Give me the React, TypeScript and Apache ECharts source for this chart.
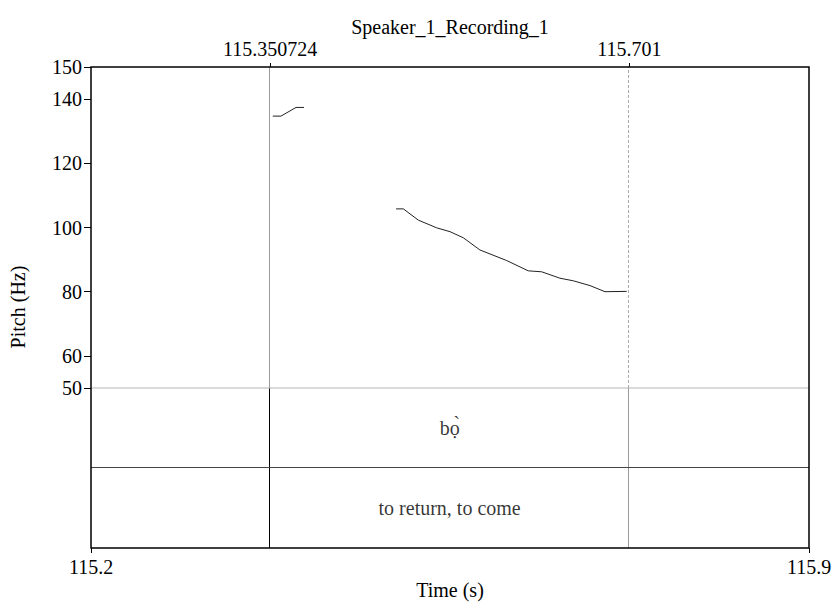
import React, { useEffect, useRef } from "react";
import * as echarts from "echarts";

const titleText = "Speaker_1_Recording_1";
const xMin = 115.1762;
const xMax = 115.8762;
const boundaries = [115.350724, 115.701];
const boundaryLabels = ["115.350724", "115.701"];
const yTicks = [50, 60, 80, 100, 120, 140, 150];
const seg1Times = [115.3534, 115.3614, 115.3761, 115.3839];
const seg1Pitch = [134.7, 134.7, 137.4, 137.4];
const seg2Times = [
  115.4736, 115.4807, 115.4953, 115.5132, 115.5262, 115.5392, 115.5554, 115.5815,
  115.6025, 115.6156, 115.6334, 115.6464, 115.6627, 115.6773, 115.6985,
];
const seg2Pitch = [
  105.8, 105.8, 102.3, 99.9, 98.7, 96.8, 93.0, 89.7, 86.5, 86.2, 84.2, 83.4, 81.9, 80.0, 80.1,
];
const tier1Text = "bọ̀";
const tier2Text = "to return, to come";

const FONT = "Liberation Serif";

export default function App() {
  const ref = useRef<HTMLDivElement>(null);
  useEffect(() => {
    if (!ref.current) return;
    const chart = echarts.init(ref.current, null, { renderer: "svg" });
    const L = 91, T = 67, W = 718;
    const Y50 = 388, TIERSEP = 468, B = 548;
    const mid = (boundaries[0] + boundaries[1]) / 2;
    const hiddenX = (gi: number) => ({
      type: "value", gridIndex: gi, min: xMin, max: xMax,
      axisLine: { show: false }, axisTick: { show: false }, axisLabel: { show: false }, splitLine: { show: false },
    });
    const hiddenY = (gi: number) => ({
      type: "value", gridIndex: gi, min: 0, max: 1,
      axisLine: { show: false }, axisTick: { show: false }, axisLabel: { show: false }, splitLine: { show: false },
    });
    const tierMark = (colors: string[]) => ({
      silent: true, symbol: "none", label: { show: false },
      data: boundaries.map((b, i) => ({ xAxis: b, lineStyle: { color: colors[i], type: "solid", width: 1 } })),
    });
    chart.setOption({
      animation: false,
      textStyle: { fontFamily: FONT },
      grid: [
        { left: L, top: T, width: W, height: Y50 - T, outerBoundsMode: "none", containLabel: false },
        { left: L, top: Y50, width: W, height: TIERSEP - Y50, outerBoundsMode: "none", containLabel: false },
        { left: L, top: TIERSEP, width: W, height: B - TIERSEP, outerBoundsMode: "none", containLabel: false },
      ],
      xAxis: [
        {
          type: "value", gridIndex: 0, position: "top", min: xMin, max: xMax,
          axisLine: { show: false },
          axisTick: { show: true, length: 4, customValues: boundaries, lineStyle: { color: "#000" } },
          axisLabel: {
            show: true, customValues: boundaries, margin: 8, color: "#000", fontSize: 20, fontFamily: FONT,
            formatter: (v: number) => {
              let best = 0;
              boundaries.forEach((b, i) => { if (Math.abs(b - v) < Math.abs(boundaries[best] - v)) best = i; });
              return boundaryLabels[best];
            },
          },
          splitLine: { show: false },
        },
        hiddenX(1),
        {
          type: "value", gridIndex: 2, position: "bottom", min: xMin, max: xMax,
          name: "Time (s)", nameLocation: "middle", nameGap: 32,
          nameTextStyle: { color: "#000", fontSize: 20, fontFamily: FONT },
          axisLine: { show: false },
          axisTick: { show: true, length: 5, customValues: [xMin, xMax], lineStyle: { color: "#000" } },
          axisLabel: {
            show: true, customValues: [xMin, xMax], showMinLabel: true, showMaxLabel: true,
            margin: 9, color: "#000", fontSize: 20, fontFamily: FONT,
            formatter: (v: number) => v.toFixed(1),
          },
          splitLine: { show: false },
        },
      ],
      yAxis: [
        {
          type: "value", gridIndex: 0, min: 50, max: 150,
          axisLine: { show: false },
          axisTick: { show: true, length: 7, customValues: yTicks, lineStyle: { color: "#000" } },
          axisLabel: {
            show: true, customValues: yTicks, showMinLabel: true, showMaxLabel: true,
            margin: 9, color: "#000", fontSize: 20, fontFamily: FONT,
          },
          splitLine: { show: false },
        },
        hiddenY(1),
        hiddenY(2),
      ],
      graphic: [
        {
          type: "text", x: 450, y: 27, z: 10,
          style: { text: titleText, fill: "#000", fontSize: 20, fontFamily: FONT, textAlign: "center", textVerticalAlign: "middle" },
        },
        {
          type: "text", x: 18, y: 307, rotation: Math.PI / 2, z: 10,
          style: { text: "Pitch (Hz)", fill: "#000", fontSize: 20, fontFamily: FONT, textAlign: "center", textVerticalAlign: "middle" },
        },
        {
          type: "line", z: 9, silent: true,
          shape: { x1: L, y1: Y50, x2: L + W, y2: Y50 },
          style: { stroke: "#b5b5b5", lineWidth: 1 },
        },
        {
          type: "line", z: 9, silent: true,
          shape: { x1: L, y1: TIERSEP - 0.5, x2: L + W, y2: TIERSEP - 0.5 },
          style: { stroke: "#444", lineWidth: 1 },
        },
        {
          type: "rect", z: 10, silent: true,
          shape: { x: L, y: T, width: W, height: B - T },
          style: { stroke: "#000", lineWidth: 1.5, fill: "none" },
        },
      ],
      series: [
        {
          type: "line", xAxisIndex: 0, yAxisIndex: 0, symbol: "none",
          data: seg1Times.map((t, i) => [t, seg1Pitch[i]]),
          lineStyle: { color: "#222", width: 1 },
          markLine: {
            silent: true, symbol: "none", label: { show: false },
            data: [
              { xAxis: boundaries[0], lineStyle: { color: "#9a9a9a", type: "solid", width: 1 } },
              { xAxis: boundaries[1], lineStyle: { color: "#aaaaaa", type: [3, 2], width: 1 } },
            ],
          },
        },
        {
          type: "line", xAxisIndex: 0, yAxisIndex: 0, symbol: "none",
          data: seg2Times.map((t, i) => [t, seg2Pitch[i]]),
          lineStyle: { color: "#222", width: 1 },
        },
        {
          type: "scatter", xAxisIndex: 1, yAxisIndex: 1, symbolSize: 0,
          data: [[mid, 0.5]],
          label: { show: true, position: "inside", formatter: tier1Text, color: "#000", fontSize: 20, fontFamily: FONT },
          markLine: tierMark(["#000", "#9a9a9a"]),
        },
        {
          type: "scatter", xAxisIndex: 2, yAxisIndex: 2, symbolSize: 0,
          data: [[mid, 0.5]],
          label: { show: true, position: "inside", formatter: tier2Text, color: "#000", fontSize: 20, fontFamily: FONT },
          markLine: tierMark(["#000", "#9a9a9a"]),
        },
      ],
    });
    return () => chart.dispose();
  }, []);
  return <div ref={ref} style={{ width: 835, height: 603, position: "absolute", left: 0, top: 0 }} />;
}
